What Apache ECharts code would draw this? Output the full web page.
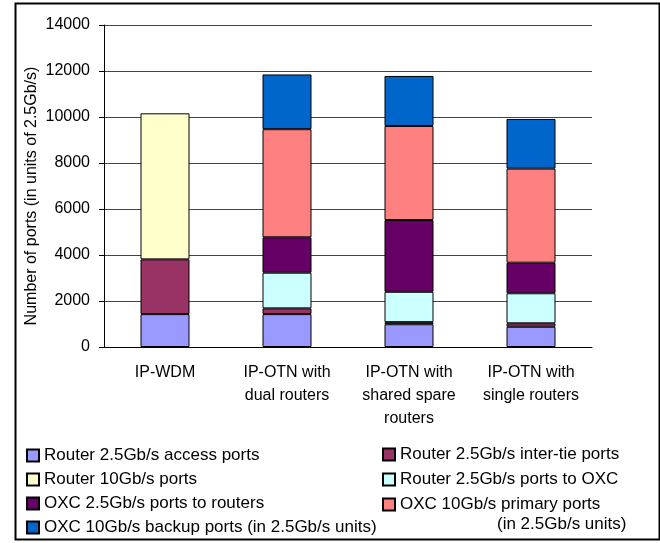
<!DOCTYPE html>
<html>
<head>
<meta charset="utf-8">
<script src="https://cdn.jsdelivr.net/npm/echarts@6/dist/echarts.min.js"></script>
<style>
html,body{margin:0;padding:0;background:#fff;}
#chart{width:660px;height:543px;}
</style>
</head>
<body>
<div id="chart"></div>
<script>
// categories and stacked values (bottom to top)
var categories=['IP-WDM','IP-OTN with\ndual routers','IP-OTN with\nshared spare\nrouters','IP-OTN with\nsingle routers'];
var accessPorts=[1430,1430,990,880];
var interTiePorts=[2380,250,90,150];
var router10G=[6350,null,null,null];
var routerToOxc=[null,1550,1320,1305];
var oxcToRouters=[null,1540,3120,1330];
var oxcPrimary=[null,4700,4090,4090];
var oxcBackup=[null,2380,2175,2160];
var yTicks=[0,2000,4000,6000,8000,10000,12000,14000];

var FONT='"Liberation Sans", Arial, sans-serif';
var names=['Router 2.5Gb/s access ports','Router 2.5Gb/s inter-tie ports','Router 10Gb/s ports',
    'Router 2.5Gb/s ports to OXC','OXC 2.5Gb/s ports to routers','OXC 10Gb/s primary ports',
    'OXC 10Gb/s backup ports (in 2.5Gb/s units)'];
var colors=['#9999FF','#993366','#FFFFCC','#CCFFFF','#660066','#FF8080','#0066CC'];
var values=[accessPorts,interTiePorts,router10G,routerToOxc,oxcToRouters,oxcPrimary,oxcBackup];

var series=[];
for(var i=0;i<names.length;i++){
    series.push({name:names[i],type:'bar',stack:'ports',barWidth:49,data:values[i],
        itemStyle:{color:colors[i],borderColor:'#000',borderWidth:1}});
}

var legendText={fontSize:17,lineHeight:16,color:'#000',fontFamily:FONT};
var chart=echarts.init(document.getElementById('chart'));
chart.setOption({
    animation:false,
    textStyle:{fontFamily:FONT},
    grid:{left:104,right:68,top:25,bottom:196},
    legend:[
        {orient:'vertical',left:26,top:447,padding:0,itemWidth:12,itemHeight:12,itemGap:7,icon:'rect',
         textStyle:legendText,data:[names[0],names[2],names[4],names[6]]},
        {orient:'vertical',left:382,top:446,padding:0,itemWidth:12,itemHeight:12,itemGap:8,icon:'rect',
         textStyle:legendText,data:[names[1],names[3],names[5]]}
    ],
    xAxis:{type:'category',data:categories,
        axisLine:{lineStyle:{color:'#000',width:1}},
        axisTick:{length:5,lineStyle:{color:'#000'}},
        axisLabel:{color:'#000',fontSize:16,lineHeight:23,margin:14,interval:0,fontFamily:FONT}},
    yAxis:{type:'value',min:yTicks[0],max:yTicks[yTicks.length-1],interval:2000,
        name:'Number of ports (in units of 2.5Gb/s)',nameLocation:'middle',nameGap:64,nameMoveOverlap:false,
        nameTextStyle:{color:'#000',fontSize:16,fontFamily:FONT,padding:[0,20,0,0]},
        axisLine:{show:true,lineStyle:{color:'#000'}},
        axisTick:{show:true,length:5,lineStyle:{color:'#000'}},
        axisLabel:{color:'#000',fontSize:16,margin:14,fontFamily:FONT,formatter:function(v){return String(v);}},
        splitLine:{lineStyle:{color:'#444',width:1}}},
    graphic:[
        {type:'rect',left:13,top:1,shape:{width:644,height:536},
         style:{fill:null,stroke:'#000',lineWidth:2},silent:true},
        {type:'text',left:497,top:516,
         style:{text:'(in 2.5Gb/s units)',fill:'#000',font:'17px '+FONT}}
    ],
    series:series
});
</script>
</body>
</html>
